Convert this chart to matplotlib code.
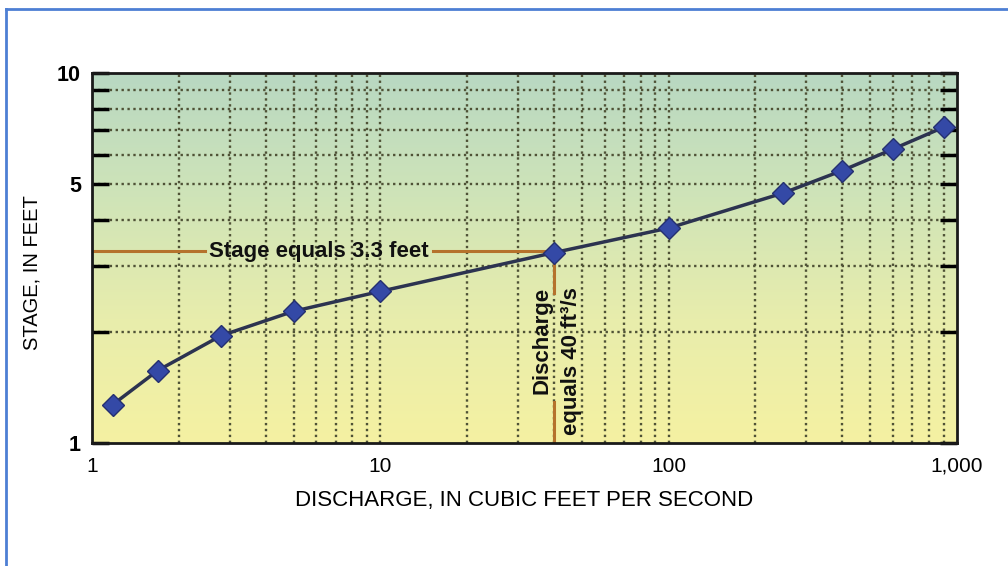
import matplotlib.pyplot as plt
import numpy as np
from matplotlib.colors import LinearSegmentedColormap
from matplotlib.lines import Line2D
from matplotlib.ticker import FixedLocator, NullLocator, NullFormatter

plt.rcParams["font.family"] = ["Liberation Sans", "DejaVu Sans"]

# rating curve points
discharge = [1.18, 1.69, 2.8, 5, 10, 40, 100, 250, 400, 600, 900]
stage = [1.27, 1.57, 1.95, 2.27, 2.57, 3.27, 3.81, 4.74, 5.45, 6.23, 7.14]

x_labels = ["1", "10", "100", "1,000"]
x_ticks = [1, 10, 100, 1000]
y_labels = ["1", "5", "10"]
y_ticks = [1, 5, 10]

stage_mark = 3.3
discharge_mark = 40

fig = plt.figure(figsize=(10.08, 5.66), dpi=100)
ax = fig.add_axes([0.0913, 0.2173, 0.8581, 0.6537])
ax.set_xscale("log")
ax.set_yscale("log")
ax.set_xlim(1, 1000)
ax.set_ylim(1, 10)

# green to yellow background
cmap = LinearSegmentedColormap.from_list(
    "bg", ["#f5f1a2", "#e8edac", "#cfe4b8", "#b8d8c2"])
grad = np.linspace(0, 1, 256).reshape(-1, 1)
ax.imshow(grad, cmap=cmap, aspect="auto", origin="lower",
          extent=[0, 1, 0, 1], transform=ax.transAxes, zorder=0)

# dotted grid
minor = []
for d in [1, 10, 100]:
    minor += [d * k for k in range(2, 10)]
grid_kw = dict(color="#4f5236", lw=1.7, ls=(0, (1, 1.5)), zorder=1)
for xv in minor + [10, 100]:
    ax.axvline(xv, **grid_kw)
for yv in range(2, 10):
    ax.axhline(yv, **grid_kw)

# ticks
ax.xaxis.set_major_locator(FixedLocator(x_ticks))
ax.xaxis.set_minor_locator(NullLocator())
ax.set_xticklabels(x_labels)
ax.yaxis.set_major_locator(FixedLocator(y_ticks))
ax.yaxis.set_minor_locator(FixedLocator(list(range(2, 10))))
ax.yaxis.set_minor_formatter(NullFormatter())
ax.set_yticklabels(y_labels)
ax.tick_params(axis="x", length=0, pad=10, labelsize=15)
ax.tick_params(axis="y", which="both", direction="in", length=12, width=2.5,
               left=True, right=True, labelsize=15.5, pad=8)
for lab in ax.get_yticklabels():
    lab.set_fontweight("bold")
for s in ax.spines.values():
    s.set_linewidth(2)
    s.set_color("#1a1a1a")

# annotation lines
ann = "#b5722c"
ax.plot([1, 2.47], [stage_mark, stage_mark], color=ann, lw=2.2, zorder=2)
ax.plot([15.2, discharge_mark], [stage_mark, stage_mark], color=ann, lw=2.2, zorder=2)
ax.plot([discharge_mark, discharge_mark], [stage_mark, 2.54], color=ann, lw=2.2, zorder=2)
ax.plot([discharge_mark, discharge_mark], [1.29, 1], color=ann, lw=2.2, zorder=2)

ax.text(6.1, stage_mark, "Stage equals 3.3 feet", ha="center", va="center",
        fontsize=16, fontweight="bold", color="#111111", zorder=3)
ax.text(40.9, 1.67, "Discharge\nequals 40 ft³/s", rotation=90, ha="center",
        va="center", multialignment="right", fontsize=16, fontweight="bold",
        color="#111111", linespacing=1.55, zorder=3)

# rating curve
ax.plot(discharge, stage, color="#2c3350", lw=2.5, zorder=4)
ax.plot(discharge, stage, ls="none", marker="D", ms=11, mfc="#3449a6",
        mec="#253070", mew=1, zorder=5)

ax.set_xlabel("DISCHARGE, IN CUBIC FEET PER SECOND", fontsize=16, labelpad=10)
ax.set_ylabel("STAGE, IN FEET", fontsize=14.5)
ax.yaxis.set_label_coords(-0.058, 0.46)

# blue frame edges
fig.add_artist(Line2D([6 / 1008, 1], [1 - 9 / 566, 1 - 9 / 566],
                      transform=fig.transFigure, color="#4d7fd4", lw=2))
fig.add_artist(Line2D([6 / 1008, 6 / 1008], [0, 1 - 9 / 566],
                      transform=fig.transFigure, color="#4d7fd4", lw=2))

fig.savefig("out.png", dpi=100)
